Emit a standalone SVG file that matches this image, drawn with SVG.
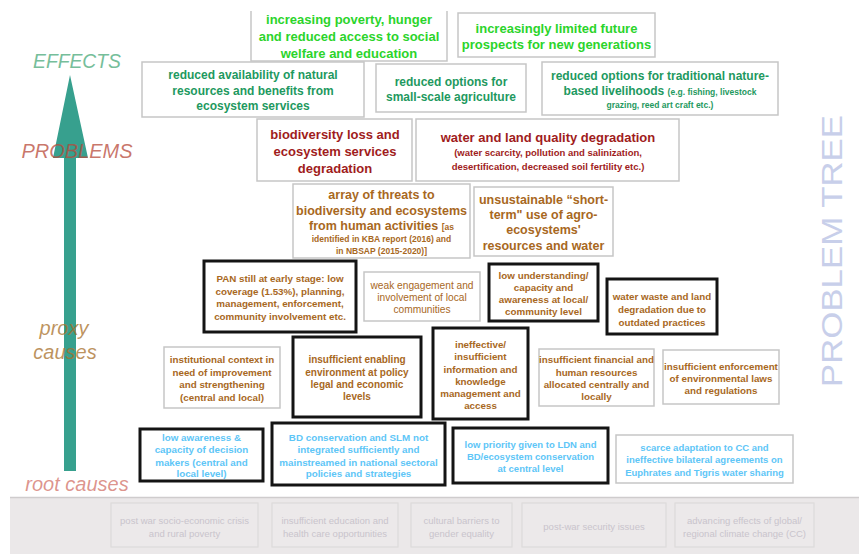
<svg xmlns="http://www.w3.org/2000/svg" width="859" height="554" viewBox="0 0 859 554">
  <style>
    text { font-family: "Liberation Sans", Arial, sans-serif; text-anchor: middle; }
    .b { font-weight: bold; }
    .thin { fill: #ffffff; stroke: #c6c6c6; stroke-width: 1.5; }
    .thick { fill: #ffffff; stroke: #141414; stroke-width: 3; }
    .band { fill: #ece9ea; stroke: #dddada; stroke-width: 1.2; }
    .effect1 { fill: #2bd42b; }
    .effect2 { fill: #1e9960; }
    .problem { fill: #a01c1c; }
    .proxy { fill: #a8681e; }
    .root { fill: #5ec6f7; }
    .deep { fill: #c9c4cc; }
    .side { font-style: italic; }
  </style>

  <!-- level labels and the upward arrow -->
  <g id="axis">
    <path d="M64 157 H76 V471 H64 Z M70 75 L88 158 L53 158 Z" fill="#37a08e"/>
    <text class="side" font-size="20" x="77" y="68" fill="#76be9a" textLength="88" lengthAdjust="spacingAndGlyphs">EFFECTS</text>
    <text class="side" font-size="20" x="77" y="158" fill="#b84a3a" fill-opacity="0.75">PROBLEMS</text>
    <text class="side" font-size="20" x="64" y="335" fill="#a8702a" fill-opacity="0.75">proxy</text>
    <text class="side" font-size="20" x="65" y="359" fill="#a8702a" fill-opacity="0.75">causes</text>
    <text class="side" font-size="20" x="77" y="491" fill="#c0392b" fill-opacity="0.55">root causes</text>
  </g>

  <text x="842" y="251" transform="rotate(-90 842 251)" fill="#c8cfea" font-size="30" textLength="272" lengthAdjust="spacingAndGlyphs">PROBLEM TREE</text>

  <!-- effects -->
  <g id="effect-poverty" font-size="13">
    <path d="M251 11 V61 H447 V11" fill="#ffffff" stroke="#c6c6c6" stroke-width="1.5"/>
    <text class="b effect1" x="349" y="23.5">increasing poverty, hunger</text>
    <text class="b effect1" x="349" y="40.5">and reduced access to social</text>
    <text class="b effect1" x="349" y="57.5">welfare and education</text>
  </g>
  <g id="effect-prospects" font-size="13">
    <rect class="thin" x="458" y="13" width="197" height="44"/>
    <text class="b effect1" x="556.5" y="32.5">increasingly limited future</text>
    <text class="b effect1" x="556.5" y="48.5">prospects for new generations</text>
  </g>
  <g id="effect-resources" font-size="12">
    <rect class="thin" x="142" y="62" width="222" height="55"/>
    <text class="b effect2" x="253" y="79">reduced availability of natural</text>
    <text class="b effect2" x="253" y="94.5">resources and benefits from</text>
    <text class="b effect2" x="253" y="110">ecosystem services</text>
  </g>
  <g id="effect-agriculture" font-size="12">
    <rect class="thin" x="376" y="64" width="150" height="48"/>
    <text class="b effect2" x="451" y="86">reduced options for</text>
    <text class="b effect2" x="451" y="101">small-scale agriculture</text>
  </g>
  <g id="effect-livelihoods" font-size="12">
    <rect class="thin" x="542" y="62" width="236" height="53"/>
    <text class="b effect2" x="660" y="80">reduced options for traditional nature-</text>
    <text class="b effect2" x="660" y="95">based livelihoods <tspan font-size="8.5">(e.g. fishing, livestock</tspan></text>
    <text class="b effect2" x="660" y="107.5" font-size="8.5">grazing, reed art craft etc.)</text>
  </g>

  <!-- core problems -->
  <g id="problem-biodiversity">
    <rect class="thin" x="257" y="119" width="155" height="62"/>
    <text class="b problem" font-size="13" x="335" y="138.5">biodiversity loss and</text>
    <text class="b problem" font-size="13" x="335" y="155.5">ecosystem services</text>
    <text class="b problem" font-size="13" x="335" y="172.5">degradation</text>
  </g>
  <g id="problem-water-land">
    <rect class="thin" x="416" y="119" width="263" height="62"/>
    <text class="b problem" font-size="13" x="548" y="141.5">water and land quality degradation</text>
    <text class="b problem" font-size="9.5" x="548" y="155.5">(water scarcity, pollution and salinization,</text>
    <text class="b problem" font-size="9.5" x="548" y="169.5">desertification, decreased soil fertility etc.)</text>
  </g>

  <!-- proxy causes -->
  <g id="cause-threats">
    <rect class="thin" x="293" y="184" width="177" height="74"/>
    <text class="b proxy" font-size="12.5" x="381.5" y="198.5">array of threats to</text>
    <text class="b proxy" font-size="12.5" x="381.5" y="214.5">biodiversity and ecosystems</text>
    <text class="b proxy" font-size="12.5" x="381.5" y="229.5">from human activities <tspan font-size="8.5">[as</tspan></text>
    <text class="b proxy" font-size="8.5" x="381.5" y="241.5">identified in KBA report (2016) and</text>
    <text class="b proxy" font-size="8.5" x="381.5" y="254">in NBSAP (2015-2020)]</text>
  </g>
  <g id="cause-short-term">
    <rect class="thin" x="474" y="187" width="139" height="69"/>
    <text class="b proxy" font-size="12.5" x="543.5" y="203.5">unsustainable “short-</text>
    <text class="b proxy" font-size="12.5" x="543.5" y="218.5">term" use of agro-</text>
    <text class="b proxy" font-size="12.5" x="543.5" y="233.5">ecosystems'</text>
    <text class="b proxy" font-size="12.5" x="543.5" y="249.5">resources and water</text>
  </g>
  <g id="cause-pan">
    <rect class="thick" x="204" y="261" width="152" height="71"/>
    <text class="b proxy" font-size="9.8" x="280" y="282">PAN still at early stage: low</text>
    <text class="b proxy" font-size="9.8" x="280" y="294.5">coverage (1.53%), planning,</text>
    <text class="b proxy" font-size="9.8" x="280" y="307">management, enforcement,</text>
    <text class="b proxy" font-size="9.8" x="280" y="319.5">community involvement etc.</text>
  </g>
  <g id="cause-engagement">
    <rect class="thin" x="364" y="272" width="116" height="49"/>
    <text class="proxy" font-size="10.2" x="422" y="288.5">weak engagement and</text>
    <text class="proxy" font-size="10.2" x="422" y="300.5">involvement of local</text>
    <text class="proxy" font-size="10.2" x="422" y="312.5">communities</text>
  </g>
  <g id="cause-understanding">
    <rect class="thick" x="489" y="264" width="109" height="57"/>
    <text class="b proxy" font-size="9.8" x="543.5" y="278.5">low understanding/</text>
    <text class="b proxy" font-size="9.8" x="543.5" y="290.5">capacity and</text>
    <text class="b proxy" font-size="9.8" x="543.5" y="302.5">awareness at local/</text>
    <text class="b proxy" font-size="9.8" x="543.5" y="314.5">community level</text>
  </g>
  <g id="cause-water-waste">
    <rect class="thick" x="607" y="279" width="110" height="55"/>
    <text class="b proxy" font-size="9.8" x="662" y="299.5">water waste and land</text>
    <text class="b proxy" font-size="9.8" x="662" y="312.5">degradation due to</text>
    <text class="b proxy" font-size="9.8" x="662" y="325.5">outdated practices</text>
  </g>
  <g id="cause-institutional">
    <rect class="thin" x="164" y="347" width="116" height="61"/>
    <text class="b proxy" font-size="9.8" x="222" y="362.5">institutional context in</text>
    <text class="b proxy" font-size="9.8" x="222" y="375.5">need of improvement</text>
    <text class="b proxy" font-size="9.8" x="222" y="387.5">and strengthening</text>
    <text class="b proxy" font-size="9.8" x="222" y="400.5">(central and local)</text>
  </g>
  <g id="cause-enabling">
    <rect class="thick" x="293" y="337" width="128" height="80"/>
    <text class="b proxy" font-size="10" x="357" y="362.5">insufficient enabling</text>
    <text class="b proxy" font-size="10" x="357" y="375.5">environment at policy</text>
    <text class="b proxy" font-size="10" x="357" y="387.5">legal and economic</text>
    <text class="b proxy" font-size="10" x="357" y="399.5">levels</text>
  </g>
  <g id="cause-information">
    <rect class="thick" x="433" y="328" width="95" height="91"/>
    <text class="b proxy" font-size="9.8" x="480.5" y="347.5">ineffective/</text>
    <text class="b proxy" font-size="9.8" x="480.5" y="359.5">insufficient</text>
    <text class="b proxy" font-size="9.8" x="480.5" y="372.5">information and</text>
    <text class="b proxy" font-size="9.8" x="480.5" y="384.5">knowledge</text>
    <text class="b proxy" font-size="9.8" x="480.5" y="396.5">management and</text>
    <text class="b proxy" font-size="9.8" x="480.5" y="408.5">access</text>
  </g>
  <g id="cause-financial">
    <rect class="thin" x="539" y="349" width="115" height="57"/>
    <text class="b proxy" font-size="9.8" x="596.5" y="362.5">insufficient financial and</text>
    <text class="b proxy" font-size="9.8" x="596.5" y="375.5">human resources</text>
    <text class="b proxy" font-size="9.8" x="596.5" y="387.5">allocated centrally and</text>
    <text class="b proxy" font-size="9.8" x="596.5" y="399.5">locally</text>
  </g>
  <g id="cause-enforcement">
    <rect class="thin" x="663" y="350" width="116" height="54"/>
    <text class="b proxy" font-size="9.8" x="721" y="369.5">insufficient enforcement</text>
    <text class="b proxy" font-size="9.8" x="721" y="381.5">of environmental laws</text>
    <text class="b proxy" font-size="9.8" x="721" y="393.5">and regulations</text>
  </g>

  <!-- root causes -->
  <g id="root-awareness">
    <rect class="thick" x="140" y="429" width="123" height="52"/>
    <text class="b root" font-size="9.8" x="201.5" y="440.5">low awareness &amp;</text>
    <text class="b root" font-size="9.8" x="201.5" y="452.5">capacity of decision</text>
    <text class="b root" font-size="9.8" x="201.5" y="465.5">makers (central and</text>
    <text class="b root" font-size="9.8" x="201.5" y="476.5">local level)</text>
  </g>
  <g id="root-mainstreaming">
    <rect class="thick" x="272" y="423" width="173" height="62"/>
    <text class="b root" font-size="9.8" x="358.5" y="440.5">BD conservation and SLM not</text>
    <text class="b root" font-size="9.8" x="358.5" y="452.5">integrated sufficiently and</text>
    <text class="b root" font-size="9.8" x="358.5" y="465.5">mainstreamed in national sectoral</text>
    <text class="b root" font-size="9.8" x="358.5" y="476.5">policies and strategies</text>
  </g>
  <g id="root-priority">
    <rect class="thick" x="453" y="428" width="155" height="55"/>
    <text class="b root" font-size="9.5" x="530.5" y="447.5">low priority given to LDN and</text>
    <text class="b root" font-size="9.5" x="530.5" y="459.5">BD/ecosystem conservation</text>
    <text class="b root" font-size="9.5" x="530.5" y="471.5">at central level</text>
  </g>
  <g id="root-adaptation">
    <rect class="thin" x="616" y="435" width="177" height="48"/>
    <text class="b root" font-size="9.5" x="704.5" y="450.5">scarce adaptation to CC and</text>
    <text class="b root" font-size="9.5" x="704.5" y="462.5">ineffective bilateral agreements on</text>
    <text class="b root" font-size="9.5" x="704.5" y="475.5">Euphrates and Tigris water sharing</text>
  </g>

  <!-- underlying context band -->
  <rect x="10" y="497" width="849" height="57" fill="#ebe8e9"/>
  <line x1="10" y1="497.5" x2="859" y2="497.5" stroke="#cfcccd" stroke-width="1.5"/>
  <g id="context-crisis" font-size="9.5">
    <rect class="band" x="111" y="503" width="147" height="44"/>
    <text class="deep" x="184.5" y="523.5">post war socio-economic crisis</text>
    <text class="deep" x="184.5" y="536.5">and rural poverty</text>
  </g>
  <g id="context-education" font-size="9.5">
    <rect class="band" x="272" y="503" width="126" height="44"/>
    <text class="deep" x="335" y="523.5">insufficient education and</text>
    <text class="deep" x="335" y="536.5">health care opportunities</text>
  </g>
  <g id="context-gender" font-size="9.5">
    <rect class="band" x="411" y="503" width="101" height="44"/>
    <text class="deep" x="461.5" y="523.5">cultural barriers to</text>
    <text class="deep" x="461.5" y="536.5">gender equality</text>
  </g>
  <g id="context-security" font-size="9.5">
    <rect class="band" x="522" y="503" width="144" height="44"/>
    <text class="deep" x="594" y="529.5">post-war security issues</text>
  </g>
  <g id="context-climate" font-size="9.5">
    <rect class="band" x="675" y="503" width="139" height="44"/>
    <text class="deep" x="744.5" y="523.5">advancing effects of global/</text>
    <text class="deep" x="744.5" y="536.5">regional climate change (CC)</text>
  </g>

  <g id="connectors"/>
</svg>
